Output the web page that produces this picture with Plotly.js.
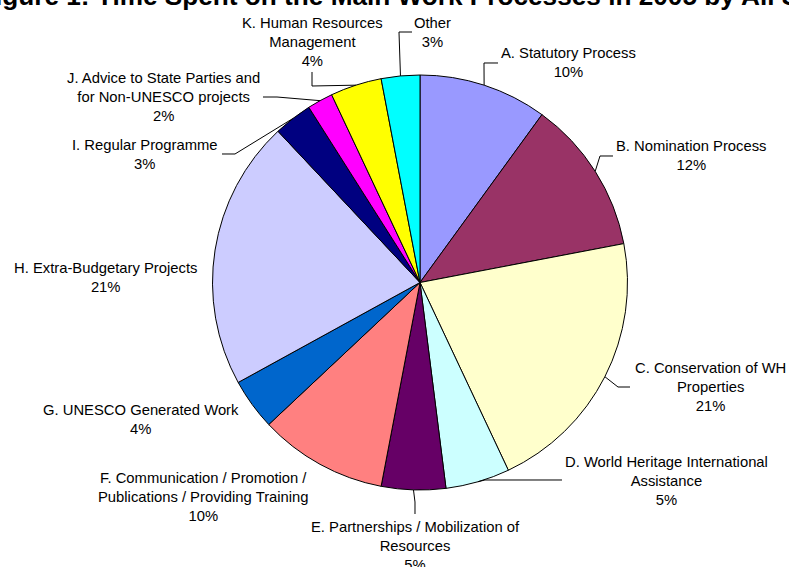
<!DOCTYPE html>
<html>
<head>
<meta charset="utf-8">
<script src="https://cdn.plot.ly/plotly-3.0.1.min.js"></script>
<style>html,body{margin:0;padding:0;background:#fff;}#chart{width:789px;height:567px;}</style>
</head>
<body>
<div id="chart"></div>
<script>
// ---- data ----
var categories = [
  "A. Statutory Process",
  "B. Nomination Process",
  "C. Conservation of WH Properties",
  "D. World Heritage International Assistance",
  "E. Partnerships / Mobilization of Resources",
  "F. Communication / Promotion / Publications / Providing Training",
  "G. UNESCO Generated Work",
  "H. Extra-Budgetary Projects",
  "I. Regular Programme",
  "J. Advice to State Parties and for Non-UNESCO projects",
  "K. Human Resources Management",
  "Other"
];
var labelLines = [
  "A. Statutory Process",
  "B. Nomination Process",
  "C. Conservation of WH<br>Properties",
  "D. World Heritage International<br>Assistance",
  "E. Partnerships / Mobilization of<br>Resources",
  "F. Communication / Promotion /<br>Publications / Providing Training",
  "G. UNESCO Generated Work",
  "H. Extra-Budgetary Projects",
  "I. Regular Programme",
  "J. Advice to State Parties and<br>for Non-UNESCO projects",
  "K. Human Resources<br>Management",
  "Other"
];
var values = [10, 12, 21, 5, 5, 10, 4, 21, 3, 2, 4, 3];
var colors = ["#9999FF", "#993366", "#FFFFCC", "#CCFFFF", "#660066", "#FF8080",
              "#0066CC", "#CCCCFF", "#000080", "#FF00FF", "#FFFF00", "#00FFFF"];
var titleText = "Figure 1: Time Spent on the Main Work Processes in 2005 by All Staff";

// ---- layout geometry (pixels) ----
var W = 789, H = 567;
var cx = 420, cy = 282.5, R = 207.5;
function px(x) { return x / W; }
function py(y) { return 1 - y / H; }

// label placement: [center x, first-line y]
var labelPos = [
  [568, 53], [691, 146], [710, 368], [666, 462], [415, 527], [203, 478],
  [141, 410], [105, 268], [145, 145], [163, 78], [312, 23], [432, 23]
];
// leader line bends (after the slice edge point); null = no leader
var leaderBends = [
  [[484, 63], [498, 63]],
  [[600, 156], [613, 156]],
  [[618, 387], [630, 387]],
  [[485, 480], [562, 480]],
  [[415, 502], [415, 514]],
  null, null, null,
  [[235, 154], [222, 154]],
  [[277, 97], [263, 97]],
  [[312, 86], [312, 72]],
  [[399, 32], [412, 32]]
];

var total = values.reduce(function (a, b) { return a + b; }, 0);
var fontSize = 14.8, lh = 19;
var annotations = [];
var shapes = [];
var cum = 0;
for (var i = 0; i < values.length; i++) {
  var pct = Math.round(values[i] / total * 100) + "%";
  var txt = labelLines[i] + "<br>" + pct;
  var nLines = txt.split("<br>").length;
  var yc = labelPos[i][1] + (nLines - 1) * lh / 2;
  annotations.push({
    xref: "paper", yref: "paper", x: px(labelPos[i][0]), y: py(yc),
    xanchor: "center", yanchor: "middle", showarrow: false, align: "center",
    text: txt, font: {family: "Arial, 'Liberation Sans', sans-serif", size: fontSize, color: "#000"}
  });
  var mid = (cum + values[i] / 2) / total * 2 * Math.PI;
  cum += values[i];
  if (leaderBends[i]) {
    var sx = cx + R * Math.sin(mid), sy = cy - R * Math.cos(mid);
    var pts = [[sx, sy]].concat(leaderBends[i]);
    var path = pts.map(function (p, k) {
      return (k === 0 ? "M" : "L") + px(p[0]).toFixed(5) + "," + py(p[1]).toFixed(5);
    }).join(" ");
    shapes.push({type: "path", xref: "paper", yref: "paper", path: path,
                 line: {color: "#000", width: 1}});
  }
}
annotations.push({
  xref: "paper", yref: "paper", x: px(-23.5), y: py(13),
  xanchor: "left", yanchor: "bottom", showarrow: false,
  text: "<b>" + titleText + "</b>",
  font: {family: "Arial, 'Liberation Sans', sans-serif", size: 26.2, color: "#000"}
});

var trace = {
  type: "pie",
  labels: categories,
  values: values,
  sort: false,
  direction: "clockwise",
  rotation: 0,
  textinfo: "none",
  hoverinfo: "label+percent",
  marker: {colors: colors, line: {color: "#000", width: 1}},
  domain: {x: [px(cx - R), px(cx + R)], y: [py(cy + R), py(cy - R)]}
};

var layout = {
  width: W, height: H,
  margin: {l: 0, r: 0, t: 0, b: 0},
  showlegend: false,
  paper_bgcolor: "#fff",
  annotations: annotations,
  shapes: shapes
};

Plotly.newPlot("chart", [trace], layout, {displayModeBar: false, staticPlot: true});
</script>
</body>
</html>
